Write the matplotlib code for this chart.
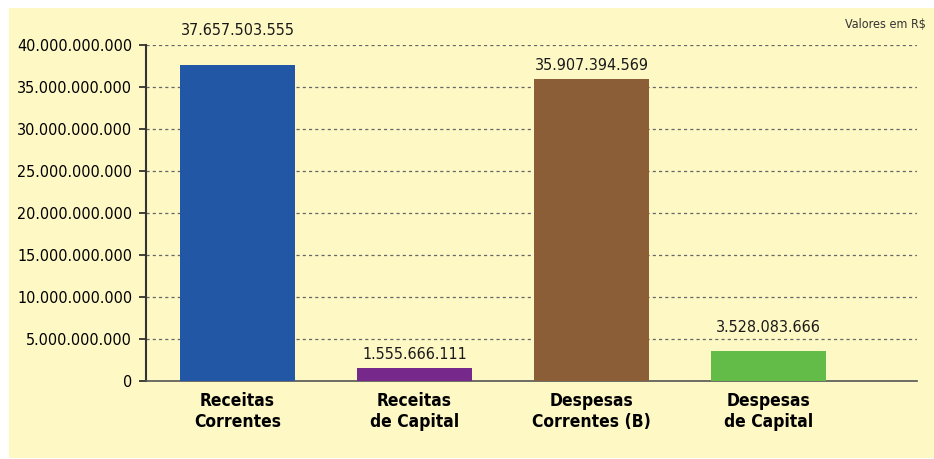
import matplotlib.pyplot as plt
from matplotlib.patches import Rectangle
from matplotlib.ticker import FuncFormatter, MultipleLocator

categories = ["Receitas\nCorrentes", "Receitas\nde Capital", "Despesas\nCorrentes (B)", "Despesas\nde Capital"]
values = [37657503555, 1555666111, 35907394569, 3528083666]
value_labels = ["37.657.503.555", "1.555.666.111", "35.907.394.569", "3.528.083.666"]
colors = ["#2157a5", "#76298a", "#8b5e37", "#62bc47"]

# deslocamento vertical dos rótulos (pontos)
label_offsets = [19.5, 4, 4.3, 12]

plt.rcParams['font.family'] = ['DejaVu Sans']
plt.rcParams['font.stretch'] = 'condensed'

fig = plt.figure(figsize=(9.34, 4.59), dpi=100)
fig.patch.set_facecolor("white")
W, H = 934, 459

# painel amarelo de fundo
fig.patches.append(Rectangle((9 / W, 1 - 458 / H), (934 - 9) / W, (458 - 8) / H,
                             transform=fig.transFigure, facecolor="#fef8c4",
                             edgecolor="none", zorder=-10))

ax = fig.add_axes([146 / W, 1 - 381 / H, (917 - 146) / W, (381 - 45) / H])
ax.set_facecolor("none")

x = list(range(len(categories)))
ax.bar(x, values, width=0.65, color=colors, zorder=3)

for i, v in enumerate(values):
    ax.annotate(value_labels[i], (x[i], v), xytext=(0, label_offsets[i]),
                textcoords="offset points", ha="center", va="bottom",
                fontsize=11.5, color="#1a1a1a")

ax.set_ylim(0, 40e9)
ax.set_xlim(-0.517, 3.84)
ax.yaxis.set_major_locator(MultipleLocator(5e9))
ax.yaxis.set_major_formatter(FuncFormatter(lambda v, p: "0" if v == 0 else f"{int(v):,}".replace(",", ".")))
ax.grid(axis="y", linestyle=(0, (2.5, 2.5)), color="#666666", linewidth=0.9, zorder=1)

ax.set_xticks(x)
ax.set_xticklabels(categories, fontsize=12.5, fontweight="bold", linespacing=1.2)
ax.tick_params(axis="x", length=0, pad=8)
ax.tick_params(axis="y", length=5, width=1.2, labelsize=11.5, color="#222222", pad=5)

for s in ["top", "right"]:
    ax.spines[s].set_visible(False)
ax.spines["left"].set_color("#333333")
ax.spines["left"].set_linewidth(1.5)
ax.spines["bottom"].set_color("#555555")
ax.spines["bottom"].set_linewidth(1.2)

fig.text(926 / W, 1 - 24 / H, "Valores em R$", ha="right", va="center", fontsize=9, color="#333333")

fig.savefig("out.png", dpi=100)
